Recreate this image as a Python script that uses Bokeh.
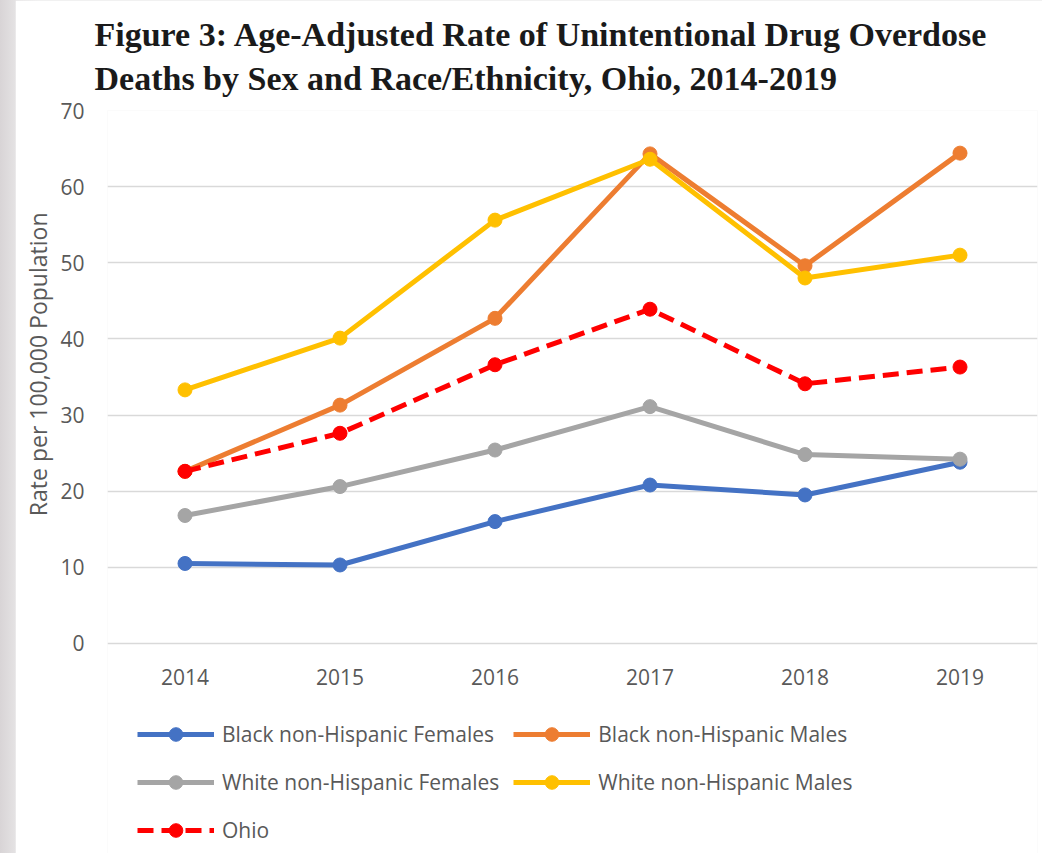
from bokeh.plotting import figure
from bokeh.models import Range1d, Legend, LegendItem, Title, FixedTicker
from bokeh.core.properties import value
from bokeh.layouts import column
from bokeh.embed import file_html
from bokeh.resources import INLINE

years = ["2014", "2015", "2016", "2017", "2018", "2019"]
black_f = [10.5, 10.3, 16.0, 20.8, 19.5, 23.8]
black_m = [22.6, 31.3, 42.7, 64.3, 49.6, 64.4]
white_f = [16.8, 20.6, 25.4, 31.1, 24.8, 24.2]
white_m = [33.3, 40.1, 55.6, 63.6, 48.0, 51.0]
ohio = [22.6, 27.6, 36.6, 43.9, 34.1, 36.3]
y_ticks = [0, 10, 20, 30, 40, 50, 60, 70]
title_line1 = "Figure 3: Age-Adjusted Rate of Unintentional Drug Overdose"
title_line2 = "Deaths by Sex and Race/Ethnicity, Ohio, 2014-2019"
y_title = "Rate per 100,000 Population"

series = [
    ("Black non-Hispanic Females", black_f, "#4472C4", "solid"),
    ("Black non-Hispanic Males", black_m, "#ED7D31", "solid"),
    ("White non-Hispanic Females", white_f, "#A5A5A5", "solid"),
    ("White non-Hispanic Males", white_m, "#FFC000", "solid"),
    ("Ohio", ohio, "#FF0000", "16 8"),
]

# frame extends below zero so that the legend (drawn inside the frame) fits
p = figure(width=1027, height=853, x_range=years, y_range=Range1d(-27.6, 70),
           output_backend="svg", toolbar_location=None, x_axis_location=None,
           min_border_left=91, min_border_right=5, min_border_top=110,
           min_border_bottom=0)
p.outline_line_color = None
p.background_fill_color = "white"
p.border_fill_color = "white"

p.xgrid.grid_line_color = None
p.ygrid.grid_line_color = "#d9d9d9"
p.ygrid.grid_line_width = 1.5
p.yaxis.ticker = FixedTicker(ticks=y_ticks)

ax = p.yaxis[0]
ax.axis_line_color = None
ax.major_tick_line_color = None
ax.minor_tick_line_color = None
ax.major_label_text_font = "Open Sans"
ax.major_label_text_font_size = "21px"
ax.major_label_text_color = "#595959"
ax.major_label_standoff = 17

# category labels along the zero line
p.text(x=years, y=[0] * len(years), text=years, y_offset=34,
       text_align="center", text_baseline="middle",
       text_font=value("Open Sans"), text_font_size="21px",
       text_color="#595959")

items = []
for name, vals, color, dash in series:
    r1 = p.line(years, vals, line_color=color, line_width=5, line_dash=dash)
    r2 = p.scatter(years, vals, size=14, fill_color=color, line_color=color)
    items.append(LegendItem(label=name, renderers=[r1, r2]))

legend = Legend(items=items, orientation="horizontal", ncols=2,
                location=(30, 6), margin=0, padding=0,
                glyph_width=77, glyph_height=34, label_height=34,
                spacing=14, label_standoff=8,
                label_text_font="Open Sans", label_text_font_size="21px",
                label_text_color="#595959", border_line_color=None,
                background_fill_alpha=0)
p.add_layout(legend, "center")

p.add_layout(Title(text=y_title, text_font="Open Sans",
                   text_font_style="normal", text_font_size="23px",
                   text_color="#595959", align="right", offset=102,
                   standoff=8), "left")

p.title = Title(text=title_line1 + "\n" + title_line2,
                text_font="Liberation Serif", text_font_style="bold",
                text_font_size="34px", text_color="#1a1a1a", align="left",
                offset=-13, standoff=27, text_line_height=1.2)

p.margin = (0, 0, 0, 15)
layout = column(p, styles={"background": "linear-gradient(90deg, #d8d4d6, #e4e2e3 15px, #ededed 40px)"})

open("out.html", "w").write(file_html(layout, INLINE))
